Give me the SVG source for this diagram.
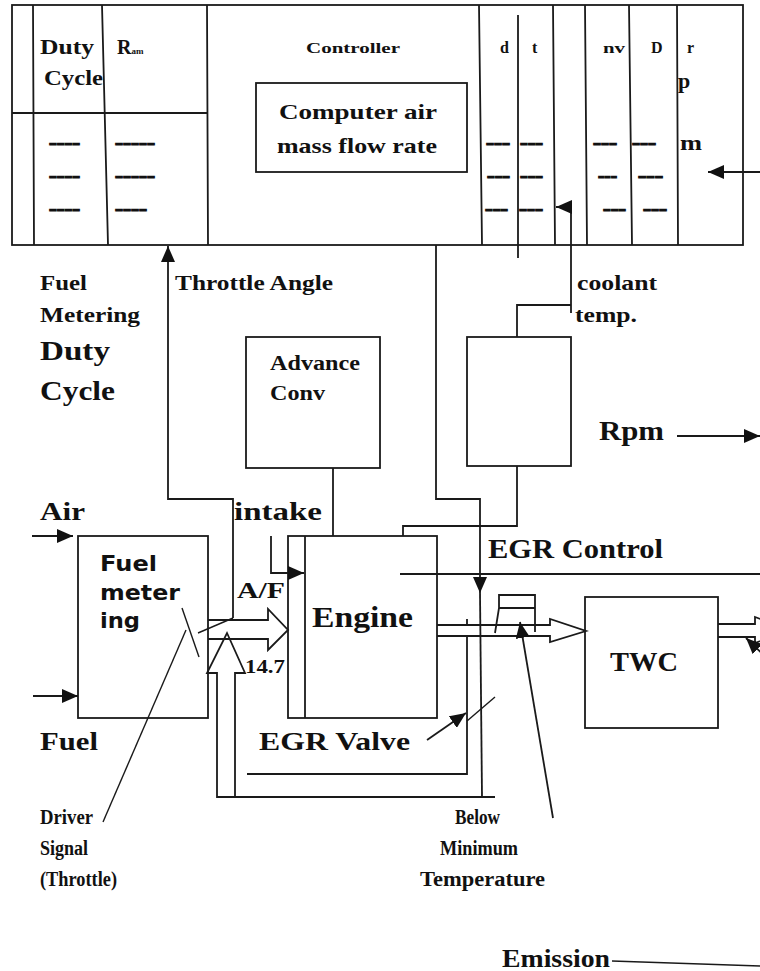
<svg xmlns="http://www.w3.org/2000/svg" width="760" height="971" viewBox="0 0 760 971">
<style>
.ln{fill:none;stroke:#1a1a1a;stroke-width:1.8}
.th{fill:none;stroke:#1a1a1a;stroke-width:1.4}
.t{font-family:"Liberation Serif",serif;font-weight:bold;fill:#111}
.ss{font-family:"DejaVu Sans","Liberation Sans",sans-serif;font-weight:bold;fill:#111}
.dash{stroke:#111;stroke-width:1.2}
</style>
<defs>
<marker id="arr" viewBox="0 0 16 14" refX="16" refY="7" markerWidth="16" markerHeight="14" markerUnits="userSpaceOnUse" orient="auto">
<path d="M0,0 L16,7 L0,14 z" fill="#111"/>
</marker>
</defs>
<rect width="760" height="971" fill="#fff"/>

<g id="controller-table">
<rect class="ln" x="12" y="5" width="731" height="240"/>
<path class="ln" d="M33,5 L34,245 M102,5 L108,245 M207,5 L208,245 M12,113 H208 M479,5 L482,245 M518,15 V258 M553,5 L555,245 M585,5 L587,245 M629,5 L632,245 M677,5 L678,245"/>
<text class="t" x="40" y="54" font-size="20" textLength="54" lengthAdjust="spacingAndGlyphs">Duty</text>
<text class="t" x="44" y="85" font-size="20" textLength="59" lengthAdjust="spacingAndGlyphs">Cycle</text>
<text class="t" x="117" y="54" font-size="20">R<tspan font-size="9">am</tspan></text>
<text class="t" x="306" y="53" font-size="14" textLength="94" lengthAdjust="spacingAndGlyphs">Controller</text>
<rect class="ln" x="256" y="83" width="211" height="89"/>
<text class="t" x="279" y="119" font-size="21" textLength="158" lengthAdjust="spacingAndGlyphs">Computer air</text>
<text class="t" x="277" y="153" font-size="21" textLength="160" lengthAdjust="spacingAndGlyphs">mass flow rate</text>
<g class="t dash" font-size="18">
<text x="49" y="149" textLength="31" lengthAdjust="spacingAndGlyphs">----</text>
<text x="49" y="182" textLength="31" lengthAdjust="spacingAndGlyphs">----</text>
<text x="49" y="215" textLength="31" lengthAdjust="spacingAndGlyphs">----</text>
<text x="115" y="149" textLength="40" lengthAdjust="spacingAndGlyphs">-----</text>
<text x="115" y="182" textLength="40" lengthAdjust="spacingAndGlyphs">-----</text>
<text x="115" y="215" textLength="32" lengthAdjust="spacingAndGlyphs">----</text>
<text x="486" y="149" textLength="24" lengthAdjust="spacingAndGlyphs">---</text>
<text x="520" y="149" textLength="23" lengthAdjust="spacingAndGlyphs">---</text>
<text x="593" y="149" textLength="24" lengthAdjust="spacingAndGlyphs">---</text>
<text x="632" y="149" textLength="24" lengthAdjust="spacingAndGlyphs">---</text>
<text x="487" y="182" textLength="23" lengthAdjust="spacingAndGlyphs">---</text>
<text x="520" y="182" textLength="23" lengthAdjust="spacingAndGlyphs">---</text>
<text x="598" y="182" textLength="19" lengthAdjust="spacingAndGlyphs">---</text>
<text x="638" y="182" textLength="25" lengthAdjust="spacingAndGlyphs">---</text>
<text x="485" y="215" textLength="23" lengthAdjust="spacingAndGlyphs">---</text>
<text x="519" y="215" textLength="24" lengthAdjust="spacingAndGlyphs">---</text>
<text x="603" y="215" textLength="23" lengthAdjust="spacingAndGlyphs">---</text>
<text x="643" y="215" textLength="24" lengthAdjust="spacingAndGlyphs">---</text>
</g>
<text class="t" x="500" y="53" font-size="16">d</text>
<text class="t" x="532" y="53" font-size="16">t</text>
<text class="t" x="603" y="53" font-size="15" textLength="22" lengthAdjust="spacingAndGlyphs">nv</text>
<text class="t" x="651" y="53" font-size="16">D</text>
<text class="t" x="687" y="53" font-size="16">r</text>
<text class="t" x="678" y="88" font-size="22">p</text>
<text class="t" x="680" y="150" font-size="20" textLength="22" lengthAdjust="spacingAndGlyphs">m</text>
</g>

<g id="labels">
<text class="t" x="40" y="290" font-size="21" textLength="47" lengthAdjust="spacingAndGlyphs">Fuel</text>
<text class="t" x="40" y="322" font-size="21" textLength="100" lengthAdjust="spacingAndGlyphs">Metering</text>
<text class="t" x="40" y="360" font-size="27" textLength="70" lengthAdjust="spacingAndGlyphs">Duty</text>
<text class="t" x="40" y="400" font-size="27" textLength="75" lengthAdjust="spacingAndGlyphs">Cycle</text>
<text class="t" x="175" y="290" font-size="21" textLength="158" lengthAdjust="spacingAndGlyphs">Throttle Angle</text>
<text class="t" x="577" y="290" font-size="21" textLength="80" lengthAdjust="spacingAndGlyphs">coolant</text>
<text class="t" x="575" y="322" font-size="21" textLength="62" lengthAdjust="spacingAndGlyphs">temp.</text>
<text class="t" x="599" y="440" font-size="27" textLength="65" lengthAdjust="spacingAndGlyphs">Rpm</text>
<text class="t" x="40" y="520" font-size="26" textLength="45" lengthAdjust="spacingAndGlyphs">Air</text>
<text class="t" x="234" y="520" font-size="26" textLength="88" lengthAdjust="spacingAndGlyphs">intake</text>
<text class="t" x="488" y="558" font-size="27" textLength="175" lengthAdjust="spacingAndGlyphs">EGR Control</text>
<text class="t" x="237" y="598" font-size="23" textLength="48" lengthAdjust="spacingAndGlyphs">A/F</text>
<text class="t" x="245" y="673" font-size="18" textLength="40" lengthAdjust="spacingAndGlyphs">14.7</text>
<text class="t" x="40" y="750" font-size="26" textLength="58" lengthAdjust="spacingAndGlyphs">Fuel</text>
<text class="t" x="259" y="750" font-size="26" textLength="151" lengthAdjust="spacingAndGlyphs">EGR Valve</text>
<text class="t" x="40" y="824" font-size="20" textLength="53" lengthAdjust="spacingAndGlyphs">Driver</text>
<text class="t" x="40" y="855" font-size="20" textLength="48" lengthAdjust="spacingAndGlyphs">Signal</text>
<text class="t" x="40" y="886" font-size="20" textLength="77" lengthAdjust="spacingAndGlyphs">(Throttle)</text>
<text class="t" x="455" y="824" font-size="20" textLength="45" lengthAdjust="spacingAndGlyphs">Below</text>
<text class="t" x="440" y="855" font-size="20" textLength="78" lengthAdjust="spacingAndGlyphs">Minimum</text>
<text class="t" x="420" y="886" font-size="20" textLength="125" lengthAdjust="spacingAndGlyphs">Temperature</text>
<text class="t" x="502" y="967" font-size="25" textLength="108" lengthAdjust="spacingAndGlyphs">Emission</text>
</g>

<g id="advance-conv">
<rect class="ln" x="246" y="337" width="134" height="131"/>
<text class="t" x="270" y="370" font-size="20" textLength="90" lengthAdjust="spacingAndGlyphs">Advance</text>
<text class="t" x="270" y="400" font-size="20" textLength="55" lengthAdjust="spacingAndGlyphs">Conv</text>
</g>

<g id="sensor-box">
<rect class="ln" x="467" y="337" width="104" height="129"/>
</g>

<g id="fuel-metering">
<rect class="ln" x="78" y="536" width="130" height="182"/>
<text class="ss" x="100" y="571" font-size="22" textLength="57" lengthAdjust="spacingAndGlyphs">Fuel</text>
<text class="ss" x="100" y="600" font-size="22" textLength="80" lengthAdjust="spacingAndGlyphs">meter</text>
<text class="ss" x="100" y="628" font-size="22" textLength="40" lengthAdjust="spacingAndGlyphs">ing</text>
</g>

<g id="engine">
<rect class="ln" x="288" y="536" width="149" height="182"/>
<path class="ln" d="M305,536 V718"/>
<text class="t" x="312" y="627" font-size="29" textLength="101" lengthAdjust="spacingAndGlyphs">Engine</text>
</g>

<g id="twc">
<rect class="ln" x="585" y="597" width="133" height="131"/>
<text class="t" x="610" y="671" font-size="27" textLength="68" lengthAdjust="spacingAndGlyphs">TWC</text>
</g>

<g id="connectors">
<path class="ln" d="M233,618 V499 H168 V246" marker-end="url(#arr)"/>
<path class="th" d="M233,618 L198,633"/>
<path class="th" d="M182,608 L199,657"/>
<path class="th" d="M103,822 L186,630"/>
<path class="ln" d="M208,620 H268 V609 L288,630 L268,650 V639 H208"/>
<path class="ln" d="M235,797 V673 H245 L227,633 L207,673 H217 V797 Z"/>
<path class="ln" d="M235,797 H495"/>
<path class="ln" d="M271,536 V573 H304" marker-end="url(#arr)"/>
<path class="ln" d="M333,468 V536"/>
<path class="ln" d="M517,466 V526 H403 V536"/>
<path class="ln" d="M517,337 V305 H571"/>
<path class="ln" d="M571,313 V207 H556" marker-end="url(#arr)"/>
<path class="ln" d="M436,245 V499 H480 V593" marker-end="url(#arr)"/>
<path class="ln" d="M480,593 L482,797"/>
<path class="ln" d="M467,619 V625 M467,636 V774 H247"/>
<path class="th" d="M495,697 L467,721"/>
<path class="ln" d="M427,740 L466,713" marker-end="url(#arr)"/>
<path class="ln" d="M437,625 H550 V619 L586,631 L550,642 V636 H437"/>
<path class="ln" d="M495,633 L499,608 V595 H535 V632 M499,608 H535"/>
<path class="ln" d="M553,818 L520,622" marker-end="url(#arr)"/>
<path class="ln" d="M400,574 H760"/>
<path class="ln" d="M718,624 H755 V617 L790,630 L755,643 V637 H718"/>
<path class="ln" d="M800,690 L746,638" marker-end="url(#arr)"/>
<path class="ln" d="M677,436 H760" marker-end="url(#arr)"/>
<path class="ln" d="M760,172 H708" marker-end="url(#arr)"/>
<path class="ln" d="M32,536 H73" marker-end="url(#arr)"/>
<path class="ln" d="M33,696 H78" marker-end="url(#arr)"/>
<path class="th" d="M612,961 L760,966"/>
</g>
</svg>
